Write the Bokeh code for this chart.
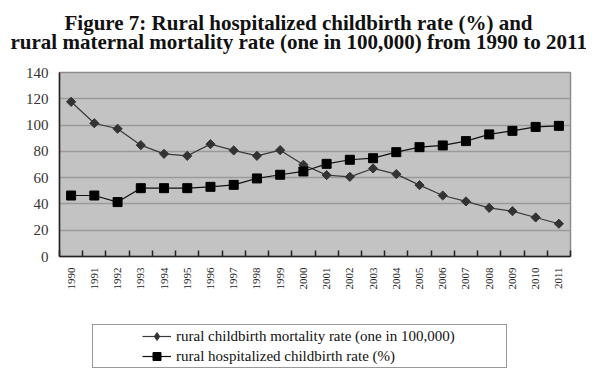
import math
from bokeh.plotting import figure
from bokeh.layouts import column
from bokeh.models import Range1d, FixedTicker, Legend, LegendItem, Title
from bokeh.embed import file_html
from bokeh.resources import INLINE

years = ["1990", "1991", "1992", "1993", "1994", "1995", "1996", "1997",
         "1998", "1999", "2000", "2001", "2002", "2003", "2004", "2005",
         "2006", "2007", "2008", "2009", "2010", "2011"]
mortality = [117.7, 101.4, 97.2, 84.7, 78.1, 76.6, 85.5, 80.7, 76.6, 80.9,
             69.8, 61.9, 60.6, 67.0, 62.7, 54.3, 46.4, 41.9, 37.0, 34.5,
             29.7, 24.9]
hospitalized = [46.4, 46.4, 41.4, 52.0, 52.0, 52.0, 53.0, 54.5, 59.4, 62.2,
                64.7, 70.5, 73.6, 74.8, 79.4, 83.2, 84.5, 87.8, 92.9, 95.6,
                98.6, 99.4]
y_ticks = [0, 20, 40, 60, 80, 100, 120, 140]

title_1 = "Figure 7: Rural hospitalized childbirth rate (%) and"
title_2 = "rural maternal mortality rate (one in 100,000) from 1990 to 2011"
label_1 = "rural childbirth mortality rate (one in 100,000)"
label_2 = "rural hospitalized childbirth rate (%)"

n = len(years)
xs = [i + 0.5 for i in range(n)]
bounds = list(range(n + 1))

SERIF = "Liberation Serif"
C_MORT = "#333333"
C_HOSP = "#000000"
L_MORT = "#3a3a3a"
L_HOSP = "#111111"

p = figure(frame_width=511, frame_height=184,
           min_border_left=59, min_border_right=16,
           min_border_top=72, min_border_bottom=50,
           x_range=Range1d(0, n), y_range=Range1d(0, 140),
           output_backend="svg", toolbar_location=None)
p.background_fill_color = "#c3c3c3"
p.border_fill_color = "white"
p.outline_line_color = "#8c8c8c"
p.outline_line_width = 1.5

p.xgrid.visible = False
p.ygrid.grid_line_color = "#9a9a9a"
p.ygrid.grid_line_width = 1.5

# x axis
xa = p.xaxis[0]
xa.ticker = FixedTicker(ticks=xs, minor_ticks=bounds)
xa.major_label_overrides = {x: y for x, y in zip(xs, years)}
xa.major_label_orientation = math.pi / 2
xa.major_tick_in = 0
xa.major_tick_out = 0
xa.minor_tick_in = 6
xa.minor_tick_out = 0
xa.minor_tick_line_color = "#222222"
xa.minor_tick_line_width = 1.5
xa.axis_line_color = "#222222"
xa.axis_line_width = 1.5
xa.major_label_standoff = 11
xa.major_label_text_font = SERIF
xa.major_label_text_font_size = "11px"
xa.major_label_text_color = "#222222"

# y axis
ya = p.yaxis[0]
ya.ticker = FixedTicker(ticks=y_ticks, minor_ticks=[])
ya.major_tick_in = 0
ya.major_tick_out = 0
ya.axis_line_color = "#222222"
ya.axis_line_width = 1.5
ya.major_label_standoff = 11
ya.major_label_text_font = SERIF
ya.major_label_text_font_size = "15px"
ya.major_label_text_color = "#333333"

# series
p.line(xs, mortality, line_color=L_MORT, line_width=1.2)
p.scatter(xs, mortality, marker="square", angle=math.pi / 4, size=6.5,
          fill_color=C_MORT, line_color=C_MORT)
p.line(xs, hospitalized, line_color=L_HOSP, line_width=1.2)
p.scatter(xs, hospitalized, marker="square", size=9,
          fill_color=C_HOSP, line_color=C_HOSP)

# title: spacer, then the two lines
spacer = Title(text=" ", text_font_size="1px", standoff=16)
t2 = Title(text=title_2, align="left", offset=-49, standoff=0,
           text_font=SERIF, text_font_size="21px", text_font_style="bold",
           text_color="#111111")
t1 = Title(text=title_1, align="left", offset=5, standoff=-14,
           text_font=SERIF, text_font_size="21px", text_font_style="bold",
           text_color="#111111")
p.add_layout(spacer, "above")
p.add_layout(t2, "above")
p.add_layout(t1, "above")

# legend strip: same series, drawn on a y range where they fall out of view,
# so only their key glyphs show
q = figure(width=586, height=68, min_border=0,
           x_axis_type=None, y_axis_type=None,
           x_range=Range1d(0, n), y_range=Range1d(-20, -10),
           output_backend="svg", toolbar_location=None)
q.outline_line_color = None
q.background_fill_color = "white"
q.border_fill_color = "white"
k1l = q.line(xs, mortality, line_color=L_MORT, line_width=1.2)
k1m = q.scatter(xs, mortality, marker="diamond", size=9,
                fill_color=C_MORT, line_color=C_MORT)
k2l = q.line(xs, hospitalized, line_color=L_HOSP, line_width=1.2)
k2m = q.scatter(xs, hospitalized, marker="square", size=9,
                fill_color=C_HOSP, line_color=C_HOSP)

legend = Legend(items=[LegendItem(label=label_1, renderers=[k1l, k1m]),
                       LegendItem(label=label_2, renderers=[k2l, k2m])],
                location=(33, 6), orientation="vertical", margin=0,
                title=" ", title_location="left", title_standoff=47,
                title_text_font_size="1px",
                glyph_width=29, glyph_height=20, label_height=20,
                label_width=329,
                label_standoff=5, spacing=0, padding=1,
                border_line_color="#333333", border_line_width=1.3,
                background_fill_color="white", background_fill_alpha=1,
                label_text_font=SERIF, label_text_font_size="15px",
                label_text_color="#111111")
q.add_layout(legend, "center")

layout = column(p, q, spacing=0)
open("out.html", "w").write(file_html(layout, INLINE))
